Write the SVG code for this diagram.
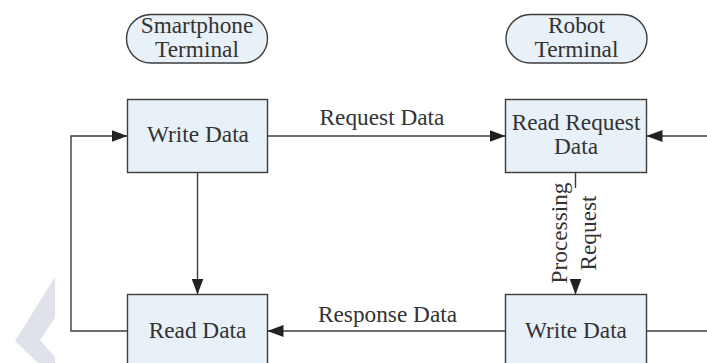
<svg xmlns="http://www.w3.org/2000/svg" width="707" height="363" viewBox="0 0 707 363">
<style>
.box{fill:#e8f0f8;stroke:#3c3c3c;stroke-width:1.4}
.t{font-family:"Liberation Serif","Times New Roman",serif;font-size:23.3px;fill:#333;text-anchor:middle}
.ln{fill:none;stroke:#3c3c3c;stroke-width:1.4}
</style>
<defs>
<marker id="ah" markerUnits="userSpaceOnUse" markerWidth="16" markerHeight="12" refX="16" refY="6" orient="auto">
<path d="M0,0 L16,6 L0,12 Z" fill="#222"/>
</marker>
</defs>
<rect width="707" height="363" fill="#fff"/>
<polygon points="55,277 55,318 40,340 55,357 55,363 38,363 15,341" fill="#dfe3e9"/>
<g id="smartphone-terminal">
<rect class="box" x="126.5" y="14.5" width="141" height="48.5" rx="24.5" ry="24.25"/>
<text class="t" x="197" y="33">Smartphone</text>
<text class="t" x="197" y="57">Terminal</text>
</g>
<g id="robot-terminal">
<rect class="box" x="506" y="14.5" width="141" height="48.5" rx="24.5" ry="24.25"/>
<text class="t" x="576.5" y="33">Robot</text>
<text class="t" x="576.5" y="57">Terminal</text>
</g>
<g id="write-data-left">
<rect class="box" x="127.5" y="99.5" width="140" height="73"/>
<text class="t" x="198" y="142">Write Data</text>
</g>
<g id="read-request-data">
<rect class="box" x="505.5" y="99.5" width="141" height="73"/>
<text class="t" x="576" y="130">Read Request</text>
<text class="t" x="576" y="153.5">Data</text>
</g>
<g id="read-data">
<rect class="box" x="127.5" y="294.5" width="140" height="80"/>
<text class="t" x="197.5" y="338">Read Data</text>
</g>
<g id="write-data-right">
<rect class="box" x="505.5" y="294.5" width="141" height="80"/>
<text class="t" x="576" y="338">Write Data</text>
</g>
<g id="connectors">
<path class="ln" d="M267.5,136 L505.5,136" marker-end="url(#ah)"/>
<text class="t" x="382" y="125">Request Data</text>
<path class="ln" d="M505.5,331 L267.5,331" marker-end="url(#ah)"/>
<text class="t" x="387.5" y="321.5">Response Data</text>
<path class="ln" d="M197.5,172.5 L197.5,294.5" marker-end="url(#ah)"/>
<path class="ln" d="M127.5,331 L71,331 L71,136 L127.5,136" marker-end="url(#ah)"/>
<path class="ln" d="M707,136 L646.5,136" marker-end="url(#ah)"/>
<path class="ln" d="M646.5,331 L707,331"/>
<path class="ln" d="M575.5,172.5 L575.5,188"/>
<path class="ln" d="M575.5,279 L575.5,294.5" marker-end="url(#ah)"/>
<text class="t" transform="translate(567,233) rotate(-90)">Processing</text>
<text class="t" transform="translate(596,233) rotate(-90)">Request</text>
</g>
</svg>
